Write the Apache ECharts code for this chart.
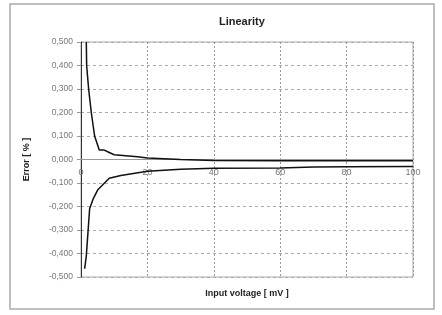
<!DOCTYPE html>
<html>
<head>
<meta charset="utf-8">
<script src="https://cdn.jsdelivr.net/npm/echarts@6/dist/echarts.min.js"></script>
<style>
  html, body { margin: 0; padding: 0; background: #fff; }
  #chart { width: 442px; height: 315px; }
</style>
</head>
<body>
<div id="chart"></div>
<script>
  // input voltage [mV] and error [%]
  var upperX = [1.6, 1.7, 2.3, 3.1, 4.1, 5.5, 7, 8.5, 10, 17, 20, 30, 40, 60, 80, 100];
  var upperY = [0.5, 0.4, 0.3, 0.2, 0.1, 0.04, 0.04, 0.03, 0.02, 0.012, 0.006, 0.0, -0.004, -0.005, -0.005, -0.005];
  var lowerX = [1.1, 1.6, 2.1, 2.6, 3.6, 5, 8.5, 12, 20, 30, 40, 60, 70, 80, 100];
  var lowerY = [-0.465, -0.41, -0.31, -0.21, -0.17, -0.13, -0.08, -0.068, -0.05, -0.042, -0.037, -0.036, -0.032, -0.031, -0.03];

  function pairs (xs, ys) {
    var out = [];
    for (var i = 0; i < xs.length; i++) out.push([xs[i], ys[i]]);
    return out;
  }

  var chart = echarts.init(document.getElementById('chart'));
  var option = {
    animation: false,
    textStyle: { fontFamily: 'Liberation Sans, Arial, sans-serif' },
    title: {
      text: 'Linearity',
      left: 214,
      top: 11,
      textStyle: { fontSize: 11, fontWeight: 'bold', color: '#222' }
    },
    graphic: [{
      type: 'rect',
      shape: { x: 10, y: 4, width: 424, height: 305 },
      style: { fill: 'none', stroke: '#aaa', lineWidth: 1.5 }
    }],
    grid: {
      left: 81, right: 29, top: 42, bottom: 38,
      outerBoundsMode: 'none',
      containLabel: false,
      show: true,
      borderColor: '#aaa',
      borderWidth: 1
    },
    xAxis: {
      type: 'value',
      min: 0, max: 100, interval: 20,
      // x axis sits on the zero line, like the spreadsheet original
      offset: -118,
      name: 'Input voltage [ mV ]',
      nameLocation: 'middle',
      nameGap: 130,
      nameTextStyle: { fontSize: 9, fontWeight: 'bold', color: '#222' },
      axisLine: { onZero: false, lineStyle: { color: '#999', width: 1 } },
      axisTick: { show: false },
      axisLabel: { fontSize: 9, color: '#777', margin: 9 },
      splitLine: { show: true, lineStyle: { color: '#999', type: [2, 2] } }
    },
    yAxis: {
      type: 'value',
      min: -0.5, max: 0.5, interval: 0.1,
      name: 'Error [ % ]',
      nameLocation: 'middle',
      nameGap: 50,
      nameTextStyle: { fontSize: 9, fontWeight: 'bold', color: '#222' },
      axisLine: { show: true, onZero: false, lineStyle: { color: '#333', width: 1 } },
      axisTick: { show: true, length: 4, lineStyle: { color: '#999' } },
      axisLabel: {
        fontSize: 8.5, color: '#777', margin: 8,
        formatter: function (v) { return v.toFixed(3).replace('.', ','); }
      },
      splitLine: { show: true, lineStyle: { color: '#aaa', type: [3, 3] } }
    },
    series: [{
      type: 'line',
      data: pairs(upperX, upperY),
      showSymbol: false,
      clip: true,
      lineStyle: { color: '#111', width: 1.5 }
    }, {
      type: 'line',
      data: pairs(lowerX, lowerY),
      showSymbol: false,
      clip: true,
      lineStyle: { color: '#111', width: 1.5 }
    }]
  };
  chart.setOption(option);
</script>
</body>
</html>
